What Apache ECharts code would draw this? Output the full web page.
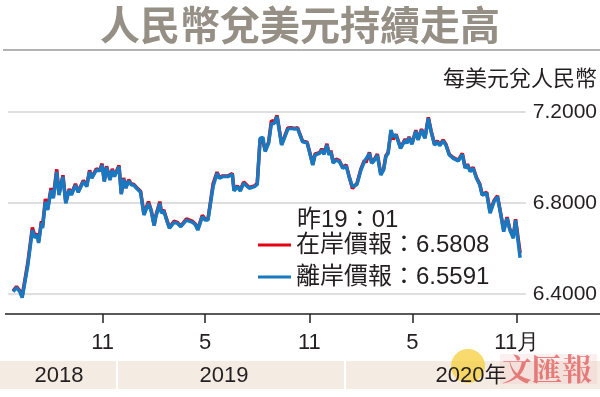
<!DOCTYPE html>
<html>
<head>
<meta charset="utf-8">
<script src="https://cdn.jsdelivr.net/npm/echarts@6/dist/echarts.min.js"></script>
</head>
<body style="margin:0">
<div id="container" style="width:600px;height:397px"></div>
<script>
var dates = [
  '2018-05-27','2018-06-02','2018-06-08','2018-06-12','2018-06-22','2018-06-30','2018-07-05','2018-07-09','2018-07-11','2018-07-16',
  '2018-07-18','2018-07-23','2018-07-27','2018-08-02','2018-08-06','2018-08-12','2018-08-16','2018-08-23','2018-08-28','2018-09-03',
  '2018-09-07','2018-09-14','2018-09-19','2018-09-28','2018-10-04','2018-10-09','2018-10-13','2018-10-21','2018-10-27','2018-10-31',
  '2018-11-04','2018-11-08','2018-11-14','2018-11-18','2018-11-22','2018-11-30','2018-12-04','2018-12-08','2018-12-12','2018-12-17',
  '2018-12-22','2018-12-26','2018-12-31','2019-01-07','2019-01-13','2019-01-21','2019-01-26','2019-01-31','2019-02-03','2019-02-06',
  '2019-02-10','2019-02-13','2019-02-17','2019-02-22','2019-02-27','2019-03-07','2019-03-13','2019-03-19','2019-03-29','2019-04-09',
  '2019-04-14','2019-04-18','2019-04-26','2019-05-01','2019-05-06','2019-05-15','2019-05-22','2019-05-26','2019-06-01','2019-06-10',
  '2019-06-18','2019-06-21','2019-06-27','2019-07-02','2019-07-08','2019-07-18','2019-07-27','2019-08-01','2019-08-06','2019-08-11',
  '2019-08-15','2019-08-21','2019-08-26','2019-08-31','2019-09-05','2019-09-13','2019-09-24','2019-09-30','2019-10-06','2019-10-11',
  '2019-10-20','2019-10-28','2019-11-01','2019-11-07','2019-11-11','2019-11-19','2019-11-23','2019-11-27','2019-12-02','2019-12-06',
  '2019-12-09','2019-12-13','2019-12-18','2019-12-24','2019-12-30','2020-01-05','2020-01-10','2020-01-16','2020-01-19','2020-01-24',
  '2020-01-31','2020-02-06','2020-02-09','2020-02-15','2020-02-19','2020-02-23','2020-02-29','2020-03-06','2020-03-11','2020-03-15',
  '2020-03-19','2020-03-24','2020-03-28','2020-04-02','2020-04-10','2020-04-18','2020-04-21','2020-04-25','2020-04-30','2020-05-07',
  '2020-05-11','2020-05-17','2020-05-23','2020-05-29','2020-06-03','2020-06-09','2020-06-14','2020-06-18','2020-06-24','2020-06-29',
  '2020-07-05','2020-07-12','2020-07-21','2020-07-28','2020-08-02','2020-08-06','2020-08-11','2020-08-16','2020-08-22','2020-08-28',
  '2020-09-01','2020-09-09','2020-09-15','2020-09-22','2020-09-28','2020-10-04','2020-10-09','2020-10-15','2020-10-20','2020-10-26',
  '2020-10-30','2020-11-07'
];
// 離岸價 (blue)
var offshore = [
  6.410,6.428,6.410,6.384,6.527,6.681,6.646,6.659,6.624,6.712,
  6.690,6.806,6.769,6.857,6.821,6.938,6.835,6.916,6.799,6.857,
  6.835,6.879,6.847,6.894,6.872,6.938,6.909,6.945,6.941,6.967,
  6.894,6.957,6.901,6.945,6.916,6.960,6.838,6.905,6.865,6.897,
  6.879,6.879,6.865,6.847,6.747,6.799,6.762,6.700,6.740,6.735,
  6.799,6.755,6.765,6.725,6.689,6.715,6.711,6.696,6.725,6.715,
  6.703,6.681,6.740,6.725,6.725,6.872,6.931,6.909,6.916,6.916,
  6.926,6.853,6.872,6.853,6.887,6.865,6.872,6.882,7.084,7.089,
  7.026,7.062,7.150,7.150,7.179,7.055,7.125,7.128,7.125,7.128,
  7.069,7.065,7.026,6.967,7.011,7.018,7.033,7.014,7.055,7.011,
  7.026,6.975,6.989,6.982,6.953,6.963,6.916,6.872,6.872,6.882,
  6.945,6.982,6.975,7.018,6.975,6.985,7.011,6.923,6.945,7.004,
  7.018,7.121,7.091,7.099,7.040,7.077,7.062,7.087,7.058,7.116,
  7.077,7.121,7.084,7.172,7.113,7.055,7.069,7.052,7.073,7.055,
  7.011,6.996,6.985,7.014,6.953,6.967,6.938,6.953,6.909,6.879,
  6.835,6.843,6.755,6.806,6.828,6.747,6.674,6.733,6.681,6.645,
  6.725,6.5591
];
// 在岸價 (red)
var onshore = [
  6.414,6.432,6.414,6.390,6.538,6.692,6.652,6.665,6.630,6.720,
  6.696,6.818,6.774,6.866,6.826,6.948,6.840,6.922,6.803,6.862,
  6.840,6.884,6.851,6.899,6.877,6.944,6.913,6.950,6.944,6.973,
  6.897,6.962,6.905,6.950,6.920,6.965,6.842,6.910,6.868,6.902,
  6.883,6.882,6.868,6.852,6.752,6.806,6.766,6.704,6.745,6.739,
  6.806,6.759,6.769,6.729,6.692,6.720,6.715,6.699,6.730,6.719,
  6.707,6.684,6.746,6.729,6.729,6.884,6.936,6.912,6.919,6.919,
  6.930,6.856,6.875,6.857,6.892,6.868,6.875,6.887,7.080,7.072,
  7.030,7.068,7.162,7.155,7.185,7.058,7.130,7.131,7.128,7.131,
  7.072,7.067,7.029,6.970,7.016,7.021,7.038,7.017,7.060,7.014,
  7.030,6.978,6.993,6.986,6.956,6.967,6.919,6.864,6.870,6.886,
  6.950,6.987,6.978,7.023,6.978,6.989,7.015,6.928,6.948,7.008,
  7.022,7.113,7.080,7.102,7.043,7.081,7.065,7.091,7.061,7.120,
  7.080,7.125,7.087,7.177,7.116,7.058,7.073,7.055,7.077,7.058,
  7.014,7.000,6.988,7.018,6.956,6.971,6.941,6.957,6.912,6.882,
  6.838,6.847,6.762,6.811,6.832,6.750,6.682,6.738,6.684,6.654,
  6.729,6.5808
];
var tickDates = ['2018-11-01','2019-05-01','2019-11-01','2020-05-01','2020-11-01'];
var tickLabels = ['11','5','11','5','11月'];
var years = ['2018','2019','2020年'];
var seriesNames = ['在岸價報','離岸價報'];

var dom = document.getElementById('container');
var myChart = echarts.init(dom);

function ts(d) { return +echarts.number.parseDate(d); }
var tickTs = tickDates.map(ts);
var last = dates.length - 1;
var numFont = '"Liberation Sans", Arial, sans-serif';
var cjkFont = '"Liberation Sans", "Noto Sans CJK TC", sans-serif';
var ink = '#231f20';

var option = {
  animation: false,
  backgroundColor: '#fff',
  title: [{
    text: '人民幣兌美元持續走高',
    left: 'center',
    top: 0,
    textStyle: { fontFamily: '"Noto Sans CJK TC"', fontWeight: 'bold', fontSize: 40, color: '#968f86' }
  }, {
    text: '每美元兌人民幣',
    right: 0,
    top: 62,
    padding: [5, 3, 5, 5],
    textStyle: { fontFamily: '"Noto Sans CJK TC"', fontWeight: 'normal', fontSize: 22, color: ink }
  }, {
    text: '昨19：01',
    left: 292,
    top: 203,
    textStyle: { fontFamily: cjkFont, fontWeight: 'normal', fontSize: 24, color: ink }
  }],
  legend: {
    data: seriesNames,
    orient: 'vertical',
    left: 258,
    top: 233,
    padding: 0,
    icon: 'rect',
    itemWidth: 33,
    itemHeight: 3,
    itemGap: 8,
    textStyle: { fontFamily: cjkFont, fontSize: 24, color: ink },
    formatter: function (name) {
      var v = name === seriesNames[0] ? onshore[last] : offshore[last];
      return name + '：' + v.toFixed(4);
    }
  },
  grid: { left: 8, right: 73, top: 112, bottom: 103 },
  xAxis: {
    type: 'value',
    min: ts('2018-05-18'),
    max: ts('2020-11-17'),
    offset: 20,
    axisLine: { show: false },
    axisTick: { show: true, customValues: tickTs, length: 9, lineStyle: { color: '#222', width: 1.5 } },
    axisLabel: {
      customValues: tickTs,
      margin: 18,
      fontFamily: numFont,
      fontSize: 22,
      color: ink,
      formatter: function (v) {
        var i = tickTs.indexOf(+v);
        return i >= 0 ? tickLabels[i] : '';
      }
    },
    splitLine: { show: false }
  },
  yAxis: {
    type: 'value',
    position: 'right',
    min: 6.4,
    max: 7.2,
    interval: 0.4,
    axisLine: { show: false },
    axisTick: { show: false },
    axisLabel: {
      margin: 7,
      fontFamily: numFont,
      fontSize: 21,
      color: ink,
      formatter: function (v) { return v.toFixed(4); }
    },
    splitLine: { lineStyle: { color: '#d4d4d4', width: 1.5 } }
  },
  series: [{
    name: seriesNames[0],
    type: 'line',
    clip: false,
    symbol: 'none',
    color: '#e50012',
    lineStyle: { width: 3.5, color: '#e50012' },
    data: dates.map(function (d, i) { return [ts(d), onshore[i]]; })
  }, {
    name: seriesNames[1],
    type: 'line',
    clip: false,
    symbol: 'none',
    color: '#1878c0',
    lineStyle: { width: 3.5, color: '#1878c0' },
    data: dates.map(function (d, i) { return [ts(d), offshore[i]]; })
  }],
  graphic: [
    { type: 'line', shape: { x1: 3, y1: 50, x2: 600, y2: 50 }, style: { stroke: '#666', lineWidth: 1 } },
    { type: 'line', shape: { x1: 5, y1: 314, x2: 600, y2: 314 }, style: { stroke: '#222', lineWidth: 1.5 } },
    { type: 'rect', shape: { x: 0, y: 361, width: 116, height: 28 }, style: { fill: '#f4ebe3' } },
    { type: 'rect', shape: { x: 118, y: 361, width: 226, height: 28 }, style: { fill: '#f4ebe3' } },
    { type: 'rect', shape: { x: 346, y: 361, width: 254, height: 28 }, style: { fill: '#f4ebe3' } },
    { type: 'rect', shape: { x: 500, y: 354, width: 97, height: 30 }, style: { fill: 'rgba(240,190,190,0.25)' } },
    { type: 'circle', shape: { cx: 468, cy: 366, r: 17 }, style: { fill: 'rgba(246,205,60,0.75)' } },
    { type: 'text', style: { x: 59, y: 376, text: years[0], align: 'center', verticalAlign: 'middle', fontFamily: numFont, fontSize: 22, fill: ink } },
    { type: 'text', style: { x: 224, y: 376, text: years[1], align: 'center', verticalAlign: 'middle', fontFamily: numFont, fontSize: 22, fill: ink } },
    { type: 'text', style: { x: 547, y: 369, text: '文匯報', align: 'center', verticalAlign: 'middle', fontFamily: '"Noto Serif CJK TC", "Noto Sans CJK TC", serif', fontWeight: 'bold', fontSize: 30, fill: 'rgba(222,80,80,0.7)' } },
    { type: 'text', style: { x: 471, y: 376, text: years[2], align: 'center', verticalAlign: 'middle', fontFamily: numFont + ', "Noto Sans CJK TC"', fontSize: 22, fill: ink } }
  ]
};

myChart.setOption(option);
</script>
</body>
</html>
